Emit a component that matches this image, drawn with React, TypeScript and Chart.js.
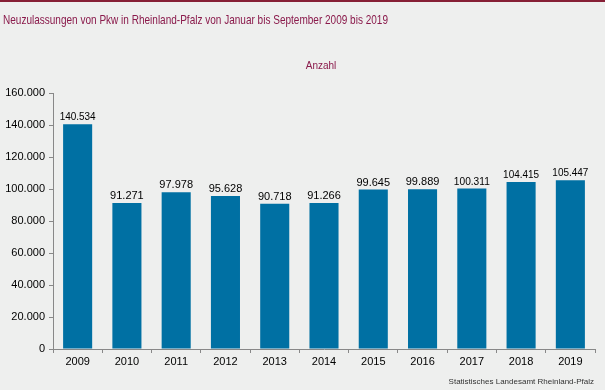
import React, { useEffect, useRef } from "react";
import { Chart, registerables } from "chart.js";

Chart.register(...registerables);

const years = ["2009", "2010", "2011", "2012", "2013", "2014", "2015", "2016", "2017", "2018", "2019"];
const registrations = [140534, 91271, 97978, 95628, 90718, 91266, 99645, 99889, 100311, 104415, 105447];
const titleText = "Neuzulassungen von Pkw in Rheinland-Pfalz von Januar bis September 2009 bis 2019";
const unitText = "Anzahl";
const sourceText = "Statistisches Landesamt Rheinland-Pfalz";

const FONT = '"Liberation Sans", Arial, sans-serif';
const fmt = (v: number) => v.toLocaleString("de-DE");

const decorPlugin = {
  id: "decor",
  beforeDraw(chart: any) {
    const { ctx, width, height } = chart;
    ctx.save();
    ctx.fillStyle = "#eeefee";
    ctx.fillRect(0, 0, width, height);
    ctx.fillStyle = "#861f35";
    ctx.fillRect(0, 0, width, 2);
    ctx.fillStyle = "#8a1a4b";
    ctx.font = `13px ${FONT}`;
    ctx.textBaseline = "alphabetic";
    ctx.textAlign = "left";
    ctx.fillText(titleText, 3, 24, 385);
    ctx.font = `10px ${FONT}`;
    ctx.textAlign = "center";
    ctx.fillText(unitText, 321, 69);
    ctx.fillStyle = "#333";
    ctx.font = `8px ${FONT}`;
    ctx.textAlign = "right";
    ctx.fillText(sourceText, 594, 384);
    ctx.restore();
  },
  afterDatasetsDraw(chart: any) {
    const { ctx } = chart;
    const meta = chart.getDatasetMeta(0);
    ctx.save();
    ctx.fillStyle = "#000";
    ctx.font = `11px ${FONT}`;
    ctx.textAlign = "center";
    ctx.textBaseline = "alphabetic";
    meta.data.forEach((bar: any, i: number) => {
      ctx.fillText(fmt(registrations[i]), bar.x, bar.y - 4, 36);
    });
    ctx.restore();
  },
};

export default function App() {
  const ref = useRef<HTMLCanvasElement>(null);
  useEffect(() => {
    if (!ref.current) return;
    const chart = new Chart(ref.current, {
      type: "bar",
      data: {
        labels: years,
        datasets: [
          {
            data: registrations,
            backgroundColor: "#0070a3",
            borderWidth: 0,
            barPercentage: 0.59,
            categoryPercentage: 1,
          },
        ],
      },
      options: {
        animation: false,
        responsive: false,
        devicePixelRatio: 1,
        layout: { padding: { left: 0, right: 10, top: 93, bottom: 21 } },
        plugins: { legend: { display: false }, tooltip: { enabled: false } },
        scales: {
          x: {
            grid: { offset: true, drawOnChartArea: false, drawTicks: true, tickLength: 4, color: "#888" },
            border: { display: true, color: "#888", width: 1 },
            ticks: { color: "#000", font: { family: FONT, size: 11 }, padding: 2 },
            afterFit: (s: any) => { s.height = 20; },
          },
          y: {
            min: 0,
            max: 160000,
            grid: { drawOnChartArea: false, drawTicks: true, tickLength: 4, color: "#888" },
            border: { display: true, color: "#888", width: 1 },
            ticks: {
              stepSize: 20000,
              color: "#000",
              font: { family: FONT, size: 11 },
              padding: 4,
              callback: (v: any) => fmt(Number(v)),
            },
            afterFit: (s: any) => { s.width = 53; },
          },
        },
      },
      plugins: [decorPlugin],
    });
    return () => chart.destroy();
  }, []);
  return (
    <div style={{ position: "fixed", left: 0, top: 0, width: 605, height: 390 }}>
      <canvas ref={ref} width={605} height={390} style={{ display: "block" }} />
    </div>
  );
}
